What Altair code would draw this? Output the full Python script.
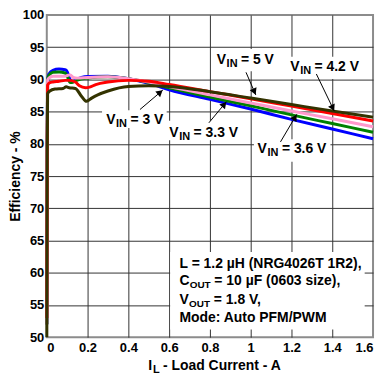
import math
import altair as alt
import pandas as pd

# ---------------- data ----------------
x_ticks = [0, 0.2, 0.4, 0.6, 0.8, 1.0, 1.2, 1.4, 1.6]
y_ticks = [50, 55, 60, 65, 70, 75, 80, 85, 90, 95, 100]

x_3v0 = [0.0003, 0.002, 0.004, 0.01, 0.03, 0.06, 0.09, 0.1, 0.11, 0.125, 0.14, 0.17, 0.2, 0.3, 0.4, 0.5, 0.6, 0.8, 1.0, 1.2, 1.4, 1.6]
e_3v0 = [52, 80, 89.5, 90.8, 91.4, 91.6, 91.5, 91.2, 90.3, 89.6, 89.9, 90.3, 90.45, 90.5, 90.1, 89.4, 88.4, 86.9, 85.4, 83.8, 82.3, 80.8]

x_3v3 = [0.0003, 0.002, 0.004, 0.01, 0.03, 0.06, 0.09, 0.1, 0.115, 0.13, 0.15, 0.2, 0.3, 0.4, 0.5, 0.6, 0.8, 1.0, 1.2, 1.4, 1.6]
e_3v3 = [52, 80, 89.8, 90.6, 91.1, 91.15, 91.0, 90.5, 89.5, 89.6, 89.9, 90.2, 90.4, 90.1, 89.5, 88.7, 87.25, 85.9, 84.5, 83.15, 81.8]

x_3v6 = [0.0003, 0.002, 0.004, 0.01, 0.03, 0.06, 0.09, 0.105, 0.115, 0.13, 0.15, 0.2, 0.3, 0.4, 0.5, 0.6, 0.8, 1.0, 1.2, 1.4, 1.6]
e_3v6 = [52, 80, 89.9, 90.2, 90.5, 90.5, 90.5, 90.65, 90.7, 90.3, 90.2, 90.3, 90.4, 90.1, 89.6, 88.9, 87.6, 86.35, 85.1, 83.9, 82.65]

x_4v2 = [0.0003, 0.002, 0.004, 0.015, 0.03, 0.06, 0.09, 0.11, 0.14, 0.16, 0.19, 0.21, 0.24, 0.3, 0.4, 0.5, 0.6, 0.8, 1.0, 1.2, 1.4, 1.6]
e_4v2 = [53, 80, 89.1, 89.5, 89.6, 89.7, 89.85, 89.85, 89.6, 89.0, 88.7, 88.8, 89.2, 89.6, 89.85, 89.7, 89.2, 88.1, 87.0, 85.85, 84.7, 83.55]

x_5v0 = [0.0002, 0.002, 0.004, 0.015, 0.04, 0.08, 0.095, 0.11, 0.14, 0.17, 0.195, 0.22, 0.25, 0.3, 0.4, 0.5, 0.6, 0.8, 1.0, 1.2, 1.4, 1.6]
e_5v0 = [50, 78, 87.8, 88.2, 88.5, 88.6, 88.85, 88.7, 88.6, 87.4, 86.6, 87.1, 87.6, 88.2, 88.9, 89.0, 88.9, 88.1, 87.1, 86.1, 85.1, 84.15]

series_names = ["3 V", "3.3 V", "3.6 V", "4.2 V", "5 V"]
series_colors = ["#0000ff", "#008000", "#ff99cc", "#ff0000", "#333300"]
series_x = [x_3v0, x_3v3, x_3v6, x_4v2, x_5v0]
series_e = [e_3v0, e_3v3, e_3v6, e_4v2, e_5v0]

# V_IN labels: text start, baseline, box, arrow
label_rest = ["= 3 V", "= 3.3 V", "= 5 V", "= 4.2 V", "= 3.6 V"]
label_x = [0.291, 0.601, 0.833, 1.194, 1.034]
label_y = [83.07, 81.05, 92.35, 91.36, 78.55]
box_x = [0.271, 0.583, 0.814, 1.175, 1.016]
box_x2 = [0.588, 0.944, 1.127, 1.535, 1.391]
box_y = [85.23, 83.57, 94.71, 93.5, 80.7]
box_y2 = [82.45, 80.56, 91.25, 90.05, 77.24]
arrow_x = [0.457, 0.795, 0.977, 1.322, 1.146]
arrow_y = [85.33, 83.27, 91.1, 90.84, 80.3]
tip_x = [0.569, 0.881, 1.025, 1.41, 1.226]
tip_y = [88.34, 86.54, 87.59, 85.08, 84.58]

# conditions box
info_box = [0.605, 1.559, 63.24, 51.19]
info_x = 0.651
info_y = [60.72, 58.07, 55.21, 52.29]
info_line1 = "L = 1.2 \u00b5H (NRG4026T 1R2),"
info_line2 = ["C", "OUT", "= 10 \u00b5F (0603 size),"]
info_line3 = ["V", "OUT", "= 1.8 V,"]
info_line4 = "Mode: Auto PFM/PWM"

xtitle_pos = [0.497, 44.95]
xtitle_parts = ["I", "L", "- Load Current - A"]
ytitle = "Efficiency - %"

# ---------------- layout / style ----------------
W, H = 328, 324
FONT = "Liberation Sans"
kx = W / 1.6
ky = H / 50.0

xscale = alt.Scale(domain=[0, 1.6], nice=False, zero=False)
yscale = alt.Scale(domain=[50, 100], nice=False, zero=False)

x_axis = alt.Axis(
    values=x_ticks, format="~g", title=None, ticks=False, domain=False,
    labelFontSize=13, labelFontWeight="bold", labelColor="black", labelFont=FONT,
    labelPadding=4, grid=True, gridColor="#333333", gridWidth=1,
    gridOpacity={"condition": {"test": "datum.value <= 0.001 || datum.value >= 1.599", "value": 0}, "value": 1},
)
y_axis = alt.Axis(
    values=y_ticks, title=ytitle, ticks=False, domain=False,
    labelFontSize=13, labelFontWeight="bold", labelColor="black", labelFont=FONT,
    labelPadding=3, titleFontSize=14, titleFontWeight="bold", titleColor="black",
    titleFont=FONT, titlePadding=0, grid=True, gridColor="#333333", gridWidth=1,
    gridOpacity={"condition": {"test": "datum.value <= 50.01 || datum.value >= 99.99", "value": 0}, "value": 1},
)


def X(field="x"):
    return alt.X(f"{field}:Q", scale=xscale, axis=x_axis)


def Y(field="y"):
    return alt.Y(f"{field}:Q", scale=yscale, axis=y_axis)


layers = []

# white boxes behind labels
boxes = pd.DataFrame({
    "x": box_x + [info_box[0]], "x2": box_x2 + [info_box[1]],
    "y": box_y + [info_box[2]], "y2": box_y2 + [info_box[3]],
})
layers.append(alt.Chart(boxes).mark_rect(fill="white", stroke=None).encode(
    x=X(), x2="x2:Q", y=Y(), y2="y2:Q"))

# curves
for name, col, xs, es in zip(series_names, series_colors, series_x, series_e):
    d = pd.DataFrame({"x": xs, "y": es, "series": name})
    layers.append(alt.Chart(d).mark_line(color=col, strokeWidth=3, interpolate="monotone").encode(
        x=X(), y=Y()))

# arrows
ar = []
for sx, sy, tx, ty in zip(arrow_x, arrow_y, tip_x, tip_y):
    dxs = (tx - sx) * kx
    dys = -(ty - sy) * ky
    L = math.hypot(dxs, dys)
    ux, uy = dxs / L, dys / L
    ang = math.degrees(math.atan2(dxs, -dys)) % 360
    hx = tx - 3.5 * ux / kx
    hy = ty + 3.5 * uy / ky
    ar.append({"x": sx, "y": sy, "x2": tx, "y2": ty, "hx": hx, "hy": hy, "angle": ang})
ar = pd.DataFrame(ar)
layers.append(alt.Chart(ar).mark_rule(color="black", strokeWidth=1).encode(
    x=X(), y=Y(), x2="x2:Q", y2="y2:Q"))
layers.append(alt.Chart(ar).mark_point(shape="triangle-up", filled=True, size=55, color="black", opacity=1).encode(
    x=alt.X("hx:Q", scale=xscale, axis=x_axis), y=alt.Y("hy:Q", scale=yscale, axis=y_axis),
    angle=alt.Angle("angle:Q", scale=None)))


def text_layer(df, dx=0, dy=0, size=14):
    return alt.Chart(df).mark_text(
        align="left", baseline="alphabetic", dx=dx, dy=dy, fontSize=size,
        fontWeight="bold", font=FONT, color="black").encode(x=X(), y=Y(), text="t:N")


# V_IN labels
layers.append(text_layer(pd.DataFrame({"x": label_x, "y": label_y, "t": ["V"] * len(label_x)})))
layers.append(text_layer(pd.DataFrame({"x": label_x, "y": label_y, "t": ["IN"] * len(label_x)}), dx=10, dy=3, size=11))
layers.append(text_layer(pd.DataFrame({"x": label_x, "y": label_y, "t": label_rest}), dx=24.4))

# conditions text
layers.append(text_layer(pd.DataFrame({"x": [info_x, info_x, info_x, info_x],
                                       "y": [info_y[0], info_y[1], info_y[2], info_y[3]],
                                       "t": [info_line1, info_line2[0], info_line3[0], info_line4]})))
layers.append(text_layer(pd.DataFrame({"x": [info_x], "y": [info_y[1]], "t": [info_line2[1]]}), dx=10.2, dy=3, size=10))
layers.append(text_layer(pd.DataFrame({"x": [info_x], "y": [info_y[2]], "t": [info_line3[1]]}), dx=9.5, dy=3, size=10))
layers.append(text_layer(pd.DataFrame({"x": [info_x], "y": [info_y[1]], "t": [info_line2[2]]}), dx=35))
layers.append(text_layer(pd.DataFrame({"x": [info_x], "y": [info_y[2]], "t": [info_line3[2]]}), dx=34.5))

# x-axis title with subscript
layers.append(text_layer(pd.DataFrame({"x": [xtitle_pos[0]], "y": [xtitle_pos[1]], "t": [xtitle_parts[0]]})))
layers.append(text_layer(pd.DataFrame({"x": [xtitle_pos[0]], "y": [xtitle_pos[1]], "t": [xtitle_parts[1]]}), dx=5, dy=3, size=11))
layers.append(text_layer(pd.DataFrame({"x": [xtitle_pos[0]], "y": [xtitle_pos[1]], "t": [xtitle_parts[2]]}), dx=15))

chart = alt.layer(*layers).properties(
    width=W, height=H, padding={"left": 0, "top": 0, "right": 0, "bottom": 0},
    background="white",
).configure_view(stroke="#8c8c8c", strokeWidth=2)

chart.save("out.html", embed_options={"renderer": "svg", "actions": False})
